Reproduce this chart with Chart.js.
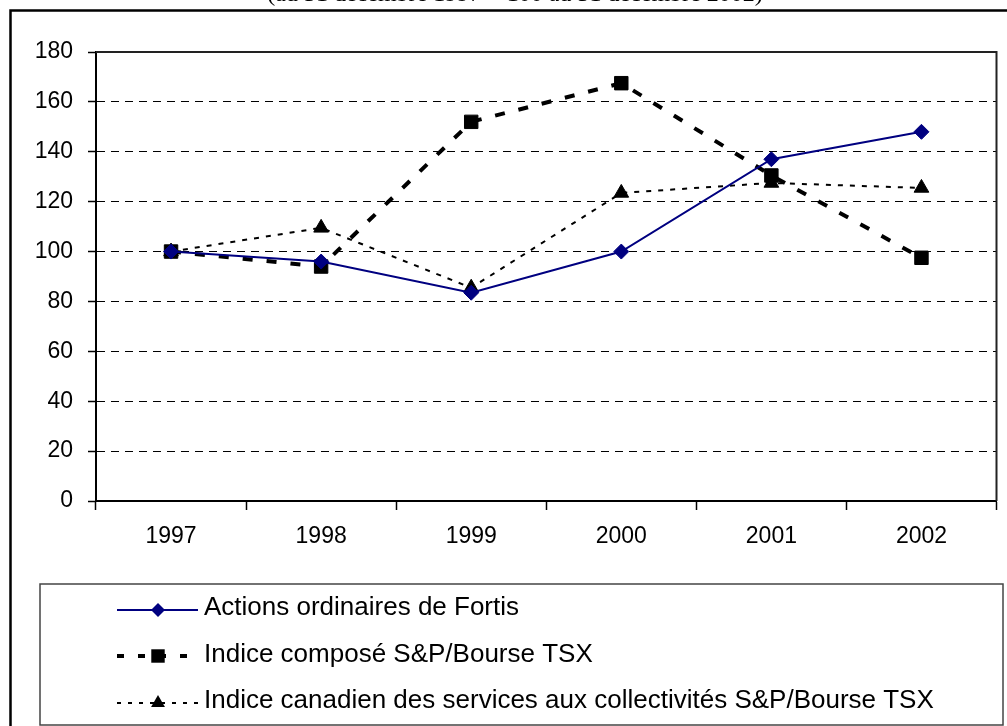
<!DOCTYPE html>
<html>
<head>
<meta charset="utf-8">
<script src="https://cdn.jsdelivr.net/npm/chart.js@4/dist/chart.umd.min.js"></script>
<style>
  html, body { margin: 0; padding: 0; background: #fff; }
  #wrap { width: 1007px; height: 726px; position: relative; }
</style>
</head>
<body>
<div id="wrap"><canvas id="c" width="1007" height="726"></canvas></div>
<script>
const years = ['1997', '1998', '1999', '2000', '2001', '2002'];
const fortis = [100, 96, 83.5, 100, 137, 148];
const spTsx = [100, 94, 152, 167.5, 130.5, 97.5];
const utilities = [100, 109.5, 85.5, 123.5, 127.5, 125.5];
const seriesNames = [
  'Actions ordinaires de Fortis',
  'Indice composé S&P/Bourse TSX',
  'Indice canadien des services aux collectivités S&P/Bourse TSX'
];
const yTicks = [0, 20, 40, 60, 80, 100, 120, 140, 160, 180];
const titleText = '(au 31 décembre 1997 = 100 au 31 décembre 2002)';

const FONT = '"Liberation Sans", Arial, sans-serif';

function marker(ctx, style, x, y, r, color) {
  ctx.save();
  ctx.fillStyle = color;
  ctx.beginPath();
  if (style === 'rectRot') {
    ctx.moveTo(x - r, y); ctx.lineTo(x, y - r); ctx.lineTo(x + r, y); ctx.lineTo(x, y + r);
  } else if (style === 'rect') {
    const s = r * Math.SQRT1_2;
    ctx.rect(x - s, y - s, 2 * s, 2 * s);
  } else if (style === 'triangle') {
    ctx.moveTo(x, y - r);
    ctx.lineTo(x + r * Math.sin(2 * Math.PI / 3), y - r * Math.cos(2 * Math.PI / 3));
    ctx.lineTo(x + r * Math.sin(4 * Math.PI / 3), y - r * Math.cos(4 * Math.PI / 3));
  }
  ctx.closePath();
  ctx.fill();
  ctx.restore();
}

const frame = {
  id: 'frame',
  afterDraw(chart) {
    const ctx = chart.ctx;
    const a = chart.chartArea;
    ctx.save();
    // outer frame
    ctx.strokeStyle = '#000';
    ctx.lineWidth = 2.5;
    ctx.beginPath();
    ctx.moveTo(1010, 10.5); ctx.lineTo(10.5, 10.5); ctx.lineTo(10.5, 730);
    ctx.stroke();
    // clipped title (only its lower edge shows, as in the reference)
    ctx.fillStyle = '#000';
    ctx.font = '24px "Liberation Serif", "Times New Roman", serif';
    ctx.textAlign = 'center';
    ctx.textBaseline = 'alphabetic';
    ctx.fillText(titleText, 515, 1, 498);
    // plot area top/right border
    ctx.strokeStyle = '#222';
    ctx.lineWidth = 2;
    ctx.beginPath();
    ctx.moveTo(a.left, a.top); ctx.lineTo(a.right, a.top); ctx.lineTo(a.right, a.bottom);
    ctx.stroke();
    // legend box
    ctx.strokeStyle = '#444';
    ctx.lineWidth = 1.5;
    ctx.strokeRect(40, 584, 963, 141);
    const rows = [
      { y: 615, ly: 610, color: '#000080', w: 2, dash: [], style: 'rectRot', r: 7 },
      { y: 661.5, ly: 656, color: '#000', w: 4, dash: [7, 14], style: 'rect', r: 9.5 },
      { y: 708, ly: 703, color: '#000', w: 2, dash: [4, 7], style: 'triangle', r: 8 }
    ];
    rows.forEach((row, i) => {
      ctx.save();
      ctx.strokeStyle = row.color;
      ctx.lineWidth = row.w;
      ctx.setLineDash(row.dash);
      ctx.beginPath();
      ctx.moveTo(117, row.ly); ctx.lineTo(198, row.ly);
      ctx.stroke();
      ctx.restore();
      marker(ctx, row.style, 158, row.ly, row.r, row.color);
      ctx.fillStyle = '#000';
      ctx.font = '26px ' + FONT;
      ctx.textAlign = 'left';
      ctx.textBaseline = 'alphabetic';
      ctx.fillText(seriesNames[i], 204, row.y);
    });
    ctx.restore();
  }
};

new Chart(document.getElementById('c'), {
  type: 'line',
  data: {
    labels: years,
    datasets: [
      {
        label: seriesNames[0], data: fortis, order: 1,
        borderColor: '#000080', backgroundColor: '#000080', borderWidth: 2,
        pointStyle: 'rectRot', pointRadius: 7.5, pointBorderWidth: 1,
        pointBackgroundColor: '#000080', pointBorderColor: '#000080', tension: 0
      },
      {
        label: seriesNames[1], data: spTsx, order: 3,
        borderColor: '#000', backgroundColor: '#000', borderWidth: 4, borderDash: [10, 14],
        pointStyle: 'rect', pointRadius: 9.5, pointBorderWidth: 1,
        pointBackgroundColor: '#000', pointBorderColor: '#000', tension: 0
      },
      {
        label: seriesNames[2], data: utilities, order: 2,
        borderColor: '#000', backgroundColor: '#000', borderWidth: 2, borderDash: [5, 7],
        pointStyle: 'triangle', pointRadius: 8.5, pointBorderWidth: 1,
        pointBackgroundColor: '#000', pointBorderColor: '#000', tension: 0
      }
    ]
  },
  options: {
    responsive: false,
    animation: false,
    devicePixelRatio: 1,
    layout: { padding: { left: 0, top: 52, right: 6, bottom: 165 } },
    plugins: { legend: { display: false }, title: { display: false }, tooltip: { enabled: false } },
    scales: {
      x: {
        type: 'category',
        offset: true,
        grid: { display: true, offset: true, drawOnChartArea: false, drawTicks: true, tickLength: 9, tickColor: '#000', tickWidth: 1.5, color: '#000' },
        border: { display: true, color: '#000', width: 2 },
        ticks: { color: '#000', font: { family: FONT, size: 23 }, padding: 13, maxRotation: 0, autoSkip: false },
        afterFit(s) { s.height = 60; }
      },
      y: {
        min: 0, max: 180,
        afterBuildTicks(s) { s.ticks = yTicks.map(v => ({ value: v })); },
        grid: { color: '#000', lineWidth: 1, drawTicks: true, tickLength: 8, tickColor: '#000', tickWidth: 1.5, tickBorderDash: [] },
        border: { display: true, color: '#000', width: 2, dash: [8, 6] },
        ticks: { color: '#000', font: { family: FONT, size: 23 }, padding: 15 },
        afterFit(s) { s.width = 96; }
      }
    }
  },
  plugins: [frame]
});
</script>
</body>
</html>
